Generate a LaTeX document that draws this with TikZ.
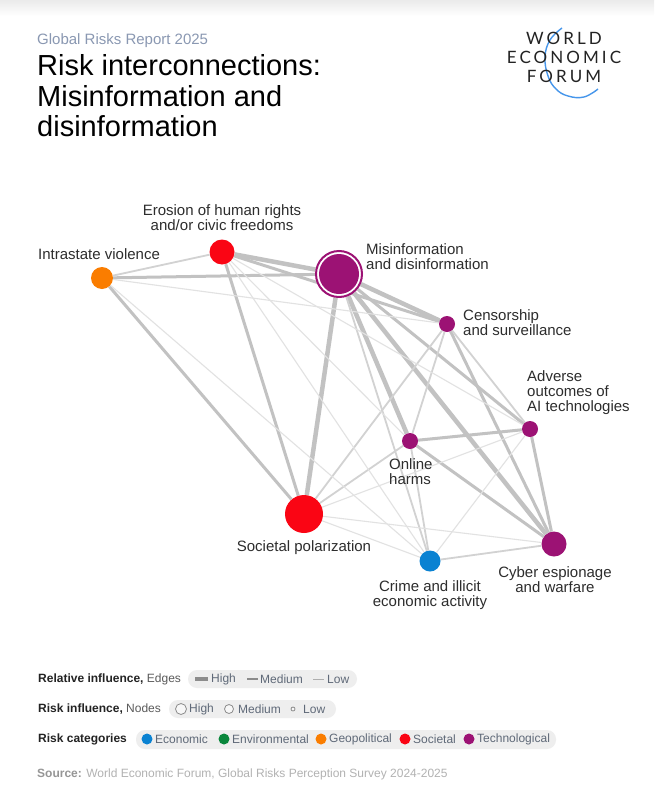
\documentclass[tikz,border=0pt]{standalone}
\usepackage{fontspec}
\setmainfont{Liberation Sans}
\newfontfamily\logofont[LetterSpace=18]{Lato}
\usetikzlibrary{backgrounds}

\definecolor{techc}{RGB}{156,18,116}
\definecolor{socc}{RGB}{250,5,20}
\definecolor{geoc}{RGB}{250,125,0}
\definecolor{ecoc}{RGB}{10,130,210}
\definecolor{envc}{RGB}{10,135,60}
\definecolor{edgec}{RGB}{194,194,194}
\definecolor{edgelt}{RGB}{210,210,210}
\definecolor{edgevlt}{RGB}{226,226,226}
\definecolor{labc}{RGB}{45,45,45}
\definecolor{kickc}{RGB}{138,152,178}
\definecolor{pillc}{RGB}{238,238,238}
\definecolor{itemc}{RGB}{95,105,120}
\definecolor{headc}{RGB}{35,35,35}
\definecolor{subc}{RGB}{90,90,90}
\definecolor{keyc}{RGB}{140,140,140}
\definecolor{srcb}{RGB}{150,150,150}
\definecolor{srcc}{RGB}{178,178,178}
\definecolor{logoblue}{RGB}{70,150,235}

\tikzset{
  risk/.style={circle, inner sep=0pt},
  risklabel/.style={text=labc, font=\fontsize{15}{15}\selectfont, inner sep=0pt},
  edgehi/.style={draw=edgec, line width=4.5pt},
  edgemid/.style={draw=edgec, line width=3pt},
  edgelo/.style={draw=edgelt, line width=1.8pt},
  edgevlo/.style={draw=edgevlt, line width=1.1pt},
  keyhead/.style={anchor=west, inner sep=0pt, font=\fontsize{12}{12}\selectfont},
  keytext/.style={anchor=west, inner sep=0pt, text=itemc, font=\fontsize{12}{12}\selectfont},
  logotext/.style={inner sep=0pt, text=headc, font=\logofont\fontsize{17}{17}\selectfont},
}

\begin{document}
\begin{tikzpicture}[x=1pt, y=-1pt]
  \useasboundingbox (0,0) rectangle (654,800);
  \shade[top color=black!8, bottom color=white] (0,0) rectangle (654,16);

  \node[anchor=base west, inner sep=0pt, text=kickc, font=\fontsize{15}{15}\selectfont] (kicker) at (37,45) {Global Risks Report 2025};
  \node[anchor=north west, inner sep=0pt, align=left, font=\fontsize{29}{30.8}\selectfont] (title) at (37,54) {Risk interconnections:\\Misinformation and\\disinformation};

  \draw[logoblue, line width=1.4pt] plot[smooth, tension=0.7] coordinates {(562,28) (550,40) (545,57) (548,76) (556,89) (568,96) (584,97) (598,89)};
  \node[logotext] (logoworld) at (564,38) {WORLD};
  \node[logotext] (logoeco) at (564,57) {ECONOMIC};
  \node[logotext] (logoforum) at (564,76) {FORUM};

  \node[risk, fill=geoc, minimum size=22pt] (intrastate) at (102,278) {};
  \node[risk, fill=socc, minimum size=25pt] (erosion) at (222,252) {};
  \node[risk, fill=white, draw=techc, line width=2pt, minimum size=46pt] (misinfo) at (339,274) {};
  \node[risk, fill=techc, minimum size=40pt] (misinfocore) at (339,274) {};
  \node[risk, fill=techc, minimum size=16pt] (censor) at (447,324) {};
  \node[risk, fill=techc, minimum size=16pt] (adverse) at (530,429) {};
  \node[risk, fill=techc, minimum size=16pt] (online) at (410,441) {};
  \node[risk, fill=socc, minimum size=38pt] (societal) at (304,514) {};
  \node[risk, fill=ecoc, minimum size=21pt] (crime) at (430,561) {};
  \node[risk, fill=techc, minimum size=25pt] (cyber) at (554,544) {};

  \node[risklabel, align=center] (erosionlab) at (222,218) {Erosion of human rights\\and/or civic freedoms};
  \node[risklabel, anchor=west] (intrastatelab) at (38,254) {Intrastate violence};
  \node[risklabel, anchor=west, align=left] (misinfolab) at (366,257) {Misinformation\\and disinformation};
  \node[risklabel, anchor=west, align=left] (censorlab) at (463,323) {Censorship\\and surveillance};
  \node[risklabel, anchor=west, align=left] (adverselab) at (527,393) {Adverse\\outcomes of\\AI technologies};
  \node[risklabel, anchor=west, align=left] (onlinelab) at (389,472) {Online\\harms};
  \node[risklabel] (societallab) at (304,548) {Societal polarization};
  \node[risklabel, align=center] (crimelab) at (430,595) {Crime and illicit\\economic activity};
  \node[risklabel, align=center] (cyberlab) at (555,580) {Cyber espionage\\and warfare};

  \begin{scope}[on background layer]
    \fill[white] (0,16) rectangle (654,800);
    \draw[edgehi] (misinfo) -- (erosion);
    \draw[edgehi] (misinfo) -- (censor);
    \draw[edgehi] (misinfo) -- (online);
    \draw[edgehi] (misinfo) -- (cyber);
    \draw[edgehi] (misinfo) -- (societal);
    \draw[edgemid] (misinfo) -- (intrastate);
    \draw[edgemid] (misinfo) -- (adverse);
    \draw[edgemid] (intrastate) -- (societal);
    \draw[edgemid] (erosion) -- (societal);
    \draw[edgemid] (erosion) -- (censor);
    \draw[edgemid] (censor) -- (cyber);
    \draw[edgemid] (online) -- (adverse);
    \draw[edgemid] (online) -- (cyber);
    \draw[edgemid] (adverse) -- (cyber);
    \draw[edgelo] (intrastate) -- (erosion);
    \draw[edgelo] (censor) -- (online);
    \draw[edgelo] (censor) -- (societal);
    \draw[edgelo] (online) -- (societal);
    \draw[edgelo] (online) -- (crime);
    \draw[edgelo] (misinfo) -- (crime);
    \draw[edgelo] (crime) -- (cyber);
    \draw[edgelo] (censor) -- (adverse);
    \draw[edgevlo] (intrastate) -- (censor);
    \draw[edgevlo] (intrastate) -- (crime);
    \draw[edgevlo] (erosion) -- (online);
    \draw[edgevlo] (erosion) -- (crime);
    \draw[edgevlo] (erosion) -- (adverse);
    \draw[edgevlo] (adverse) -- (crime);
    \draw[edgevlo] (adverse) -- (societal);
    \draw[edgevlo] (societal) -- (crime);
    \draw[edgevlo] (societal) -- (cyber);
  \end{scope}

  \node[keyhead] (edgekey) at (38,679) {\textcolor{headc}{\textbf{Relative influence,}} \textcolor{subc}{Edges}};
  \fill[pillc, rounded corners=9pt] (188,670) rectangle (357,688);
  \draw[keyc, line width=3.5pt] (195,679) -- (208,679);
  \node[keytext] (edgehigh) at (211,679) {High};
  \draw[keyc, line width=2.2pt] (247,679) -- (258,679);
  \node[keytext] (edgemed) at (260,679) {Medium};
  \draw[keyc!70, line width=1pt] (313,679) -- (324,679);
  \node[keytext] (edgelow) at (327,679) {Low};

  \node[keyhead] (nodekey) at (38,709) {\textcolor{headc}{\textbf{Risk influence,}} \textcolor{subc}{Nodes}};
  \fill[pillc, rounded corners=9pt] (169,700) rectangle (336,718);
  \draw[keyc, fill=black!3, line width=0.8pt] (181,709) circle[radius=5.5pt];
  \node[keytext] (nodehigh) at (189,709) {High};
  \draw[keyc, fill=black!3, line width=0.8pt] (229,709) circle[radius=4.5pt];
  \node[keytext] (nodemed) at (238,709) {Medium};
  \draw[keyc, fill=black!3, line width=0.8pt] (293,709) circle[radius=2pt];
  \node[keytext] (nodelow) at (303,709) {Low};

  \node[keyhead] (catkey) at (38,739) {\textcolor{headc}{\textbf{Risk categories}}};
  \fill[pillc, rounded corners=9pt] (136,730) rectangle (556,749);
  \fill[ecoc] (147,739) circle[radius=5.5pt];
  \node[keytext] (cateco) at (155,739) {Economic};
  \fill[envc] (224,739) circle[radius=5.5pt];
  \node[keytext] (catenv) at (232,739) {Environmental};
  \fill[geoc] (321,739) circle[radius=5.5pt];
  \node[keytext] (catgeo) at (329,739) {Geopolitical};
  \fill[socc] (405,739) circle[radius=5.5pt];
  \node[keytext] (catsoc) at (413,739) {Societal};
  \fill[techc] (469,739) circle[radius=5.5pt];
  \node[keytext] (cattech) at (477,739) {Technological};

  \node[keyhead] (source) at (37,774) {\textcolor{srcb}{\textbf{Source:}} \textcolor{srcc}{World Economic Forum, Global Risks Perception Survey 2024-2025}};
\end{tikzpicture}
\end{document}
